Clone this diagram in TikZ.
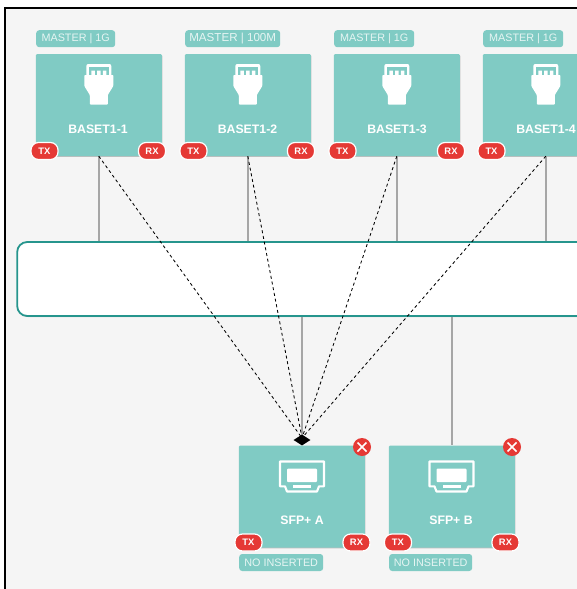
\documentclass[tikz,border=0pt]{standalone}
\usepackage{fontspec}
\setmainfont{Liberation Sans}
\usetikzlibrary{shapes.geometric,shadows}
\definecolor{cardteal}{HTML}{80CBC4}
\definecolor{barteal}{HTML}{26958D}
\definecolor{badgered}{HTML}{E53935}
\definecolor{pagebg}{HTML}{F5F5F5}
\definecolor{wiregray}{HTML}{A6A6A6}
\definecolor{tagtext}{HTML}{E6F5F3}
\tikzset{
  card/.style={fill=cardteal,rounded corners=1.2pt,minimum width=126pt,minimum height=102pt,inner sep=0pt,
    drop shadow={shadow xshift=.6pt,shadow yshift=-.8pt,opacity=.22,fill=black}},
  cardname/.style={text=white,font=\fontsize{12.3}{12}\selectfont\bfseries,inner sep=0pt},
  tag/.style={fill=cardteal,rounded corners=3pt,text=tagtext,font=\fontsize{10.8}{11}\selectfont,inner sep=0pt,minimum height=17pt,anchor=west},
  badge/.style={fill=badgered,draw=white,line width=1.2pt,rounded corners=7.5pt,text=white,font=\fontsize{9.4}{9}\selectfont\bfseries,inner sep=0pt,minimum width=27pt,minimum height=17pt},
  closer/.style={circle,fill=badgered,inner sep=0pt,minimum size=18pt},
  wire/.style={wiregray,line width=1.4pt},
  flow/.style={black,line width=.85pt,dash pattern=on 3pt off 2.8pt},
  plugicon/.pic={
    \fill[white,rounded corners=2pt] (-12.5,-20) rectangle (12.5,-7);
    \fill[white,rounded corners=.8pt] (-14.5,-9) -- (14.5,-9) -- (14.5,2) -- (9,11) -- (9,20.5) -- (-9,20.5) -- (-9,11) -- (-14.5,2) -- cycle;
    \fill[cardteal] (-10,-16.7) rectangle (10,-9.3);
    \fill[white] (-7.5,-13.5) rectangle (-4,-9) (-1.7,-13.5) rectangle (1.7,-9) (4,-13.5) rectangle (7.5,-9);
  },
  tvicon/.pic={
    \draw[white,line width=2.1pt,line join=round] (-22,-12.5) -- (22,-12.5) -- (22,12.3) -- (17,12.3) -- (15,17.5) -- (-15,17.5) -- (-17,12.3) -- (-22,12.3) -- cycle;
    \fill[white,rounded corners=1pt] (-15,-5.5) rectangle (15,8);
    \fill[white] (-9,10.5) rectangle (9,13.5);
  }
}
\begin{document}
\begin{tikzpicture}[x=1pt,y=-1pt]
\useasboundingbox (0,0) rectangle (577,589);
\clip (0,0) rectangle (577,589);
\fill[white] (0,0) rectangle (577,589);
\fill[pagebg] (5,8) rectangle (590,600);
\draw[black,line width=1.8pt] (4.8,610) -- (4.8,7.8) -- (590,7.8);

\node[card] (c1) at (98.8,105) {};
\node[card] (c2) at (247.8,105) {};
\node[card] (c3) at (396.8,105) {};
\node[card] (c4) at (545.8,105) {};
\node[card] (sa) at (301.8,496.5) {};
\node[card] (sb) at (451.8,496.5) {};
\node[fill=white,draw=barteal,line width=1.8pt,rounded corners=10pt,minimum width=680pt,minimum height=74pt,inner sep=0pt,anchor=west,
  drop shadow={shadow xshift=.6pt,shadow yshift=-1pt,opacity=.2,fill=black}] (bar) at (16.3,279) {};

\coordinate (hub) at (302,438);
\foreach \c in {c1,c2,c3,c4} \draw[wire] (\c.south) -- (\c.south |- bar.north);
\draw[wire] (sa.north |- bar.south) -- (sa.north);
\draw[wire] (sb.north |- bar.south) -- (sb.north);
\foreach \c in {c1,c2,c3,c4} \draw[flow] (\c.south) -- (hub);
\node[diamond,fill=black,inner sep=0pt,minimum width=17pt,minimum height=11pt] (tip) at (302,440) {};

\pic at (98.8,84) {plugicon};
\pic at (247.8,84) {plugicon};
\pic at (396.8,84) {plugicon};
\pic at (545.8,84) {plugicon};
\pic at (302,474) {tvicon};
\pic at (451.5,474) {tvicon};

\node[cardname] (n1) at (98,129) {BASET1-1};
\node[cardname] (n2) at (247.5,129) {BASET1-2};
\node[cardname] (n3) at (397,129) {BASET1-3};
\node[cardname] (n4) at (546,129) {BASET1-4};
\node[cardname] (n5) at (302,520) {SFP+ A};
\node[cardname] (n6) at (451,520) {SFP+ B};

\node[tag,minimum width=79pt] (t1) at (36,38.7) {MASTER | 1G};
\node[tag,minimum width=95pt,font=\fontsize{11.6}{11}\selectfont] (t2) at (185,38.7) {MASTER | 100M};
\node[tag,minimum width=80pt] (t3) at (334,38.7) {MASTER | 1G};
\node[tag,minimum width=80pt] (t4) at (483,38.7) {MASTER | 1G};
\node[tag,minimum width=84pt] (t5) at (239,562.5) {NO INSERTED};
\node[tag,minimum width=83pt] (t6) at (389,562.5) {NO INSERTED};

\node[badge] (tx1) at (44.5,151) {TX};
\node[badge] (rx1) at (152,151) {RX};
\node[badge] (tx2) at (193.5,151) {TX};
\node[badge] (rx2) at (301,151) {RX};
\node[badge] (tx3) at (342.5,151) {TX};
\node[badge] (rx3) at (451,151) {RX};
\node[badge] (tx4) at (491.5,151) {TX};
\node[badge] (tx5) at (248.5,542.5) {TX};
\node[badge] (rx5) at (356.5,542.5) {RX};
\node[badge] (tx6) at (398,542.5) {TX};
\node[badge] (rx6) at (505.5,542.5) {RX};

\node[closer] (x1) at (362,447) {};
\node[closer] (x2) at (512,447) {};
\foreach \k in {x1,x2}
  \draw[white,line width=1.7pt] ([xshift=-4.5pt,yshift=-4.5pt]\k.center) -- ([xshift=4.5pt,yshift=4.5pt]\k.center)
    ([xshift=-4.5pt,yshift=4.5pt]\k.center) -- ([xshift=4.5pt,yshift=-4.5pt]\k.center);
\end{tikzpicture}
\end{document}
